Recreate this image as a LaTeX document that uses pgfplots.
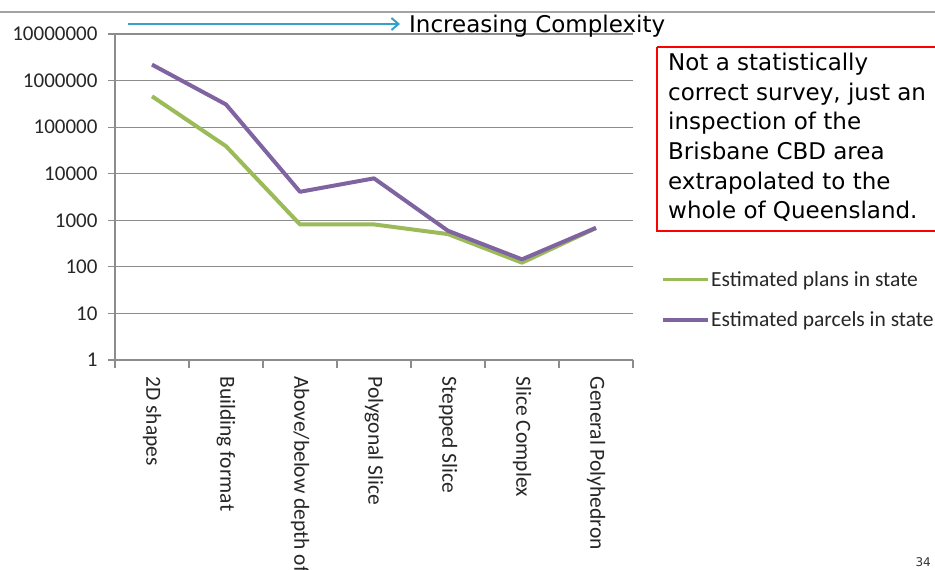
\documentclass[border=0pt]{standalone}
\usepackage{pgfplots}
\pgfplotsset{compat=1.18}
\usetikzlibrary{arrows.meta}
\usepackage{fontspec}
\setmainfont{Carlito}
\newfontfamily\dejavu{DejaVu Sans}
\definecolor{cgreen}{HTML}{9BBB59}
\definecolor{cpurple}{HTML}{8064A2}
\definecolor{carrow}{HTML}{35A2C4}
\definecolor{cgrid}{HTML}{8C8C8C}
\begin{document}
\begin{tikzpicture}[x=1pt,y=1pt]
\path[use as bounding box] (0,0) rectangle (935,570);
\draw[color=cgrid!80, line width=1.5pt] (0,558) -- (935,558);
\begin{axis}[
  at={(115pt,210pt)}, anchor=south west,
  scale only axis, width=518pt, height=326pt,
  ymode=log, ymin=1, ymax=1e7,
  xmin=-0.5, xmax=6.5,
  axis lines*=left,
  axis line style={color=cgrid, line width=1.2pt},
  ymajorgrids, grid style={color=cgrid, line width=1.2pt},
  ytick={1,10,100,1000,10000,100000,1000000,10000000},
  yticklabels={1,10,100,1000,10000,100000,1000000,10000000},
  yticklabel style={font=\fontsize{21}{22}\selectfont, text=black!85},
  yticklabel shift=7pt,
  xtick={0,1,2,3,4,5,6},
  xticklabels={2D shapes,Building format,Above/below depth of,Polygonal Slice,Stepped Slice,Slice Complex,General Polyhedron},
  xticklabel style={rotate=-90, anchor=west, font=\fontsize{21.5}{22}\selectfont, text=black!85},
  xticklabel shift=6pt,
  minor xtick={-0.5,0.5,1.5,2.5,3.5,4.5,5.5,6.5},
  x tick style={draw=none},
  minor x tick style={draw=cgrid, line width=1.2pt},
  y tick style={draw=cgrid, line width=1.2pt},
  tick align=outside, major tick length=7pt, minor tick length=8pt,
  yminorticks=false,
  legend style={draw=none, fill=none, at={(1.055,0.276)}, anchor=north west,
    inner sep=0pt, row sep=22pt, font=\fontsize{21.5}{22}\selectfont,
    nodes={inner sep=1pt, text=black!85}},
  legend cell align=left,
  legend image code/.code={\draw[#1, line width=3.5pt] (0pt,0pt) -- (45pt,0pt);},
  clip=false,
]
\addplot[color=cgreen, line width=4pt, line join=round] coordinates {
 (0,460000) (1,39000) (2,815) (3,815) (4,505) (5,123) (6,680)};
\addlegendentry{Estimated plans in state}
\addplot[color=cpurple, line width=4pt, line join=round] coordinates {
 (0,2200000) (1,307000) (2,4090) (3,7950) (4,595) (5,145) (6,690)};
\addlegendentry{Estimated parcels in state}
\end{axis}
\draw[color=carrow, line width=2pt, -{Straight Barb[length=7pt, width=12pt]}] (128,546) -- (400,546);
\node[anchor=base west, inner sep=0pt, font=\dejavu\fontsize{23}{26}\selectfont] at (409,537) {Increasing Complexity};
\draw[red, line width=2.5pt] (657,523) -- (657,339) -- (940,339);
\draw[red, line width=2.5pt] (657,523) -- (940,523);
\node[anchor=north west, inner sep=0pt, align=left, font=\dejavu\fontsize{23}{29.6}\selectfont] at (668,517) {Not a statistically\\correct survey, just an\\inspection of the\\Brisbane CBD area\\extrapolated to the\\whole of Queensland.};
\node[anchor=base east, inner sep=0pt, font=\dejavu\fontsize{12}{14}\selectfont, text=black!80] at (931,3) {34};
\end{tikzpicture}
\end{document}
